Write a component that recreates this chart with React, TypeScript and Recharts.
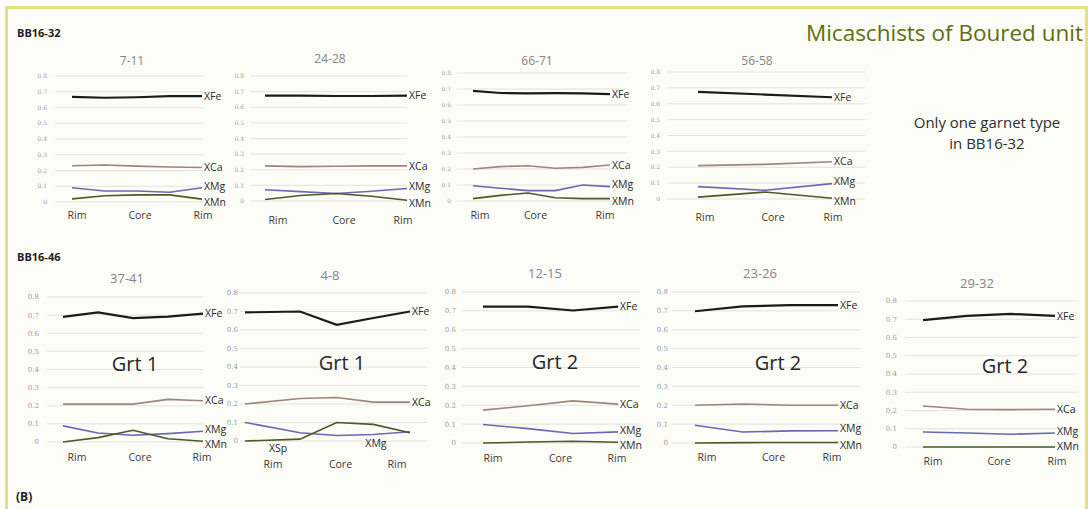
import { LineChart, Line, XAxis, YAxis, CartesianGrid } from "recharts";

// y axis ticks shared by every panel
const yTicks = [0, 0.1, 0.2, 0.3, 0.4, 0.5, 0.6, 0.7, 0.8];
const profileLabels = ["Rim", "Core", "Rim"];

// BB16-32
const pos_7_11 = [0, 1, 2, 3, 4];
const fe_7_11 = [0.668, 0.662, 0.665, 0.672, 0.672];
const ca_7_11 = [0.23, 0.235, 0.228, 0.222, 0.219];
const mg_7_11 = [0.09, 0.07, 0.07, 0.062, 0.09];
const mn_7_11 = [0.02, 0.04, 0.045, 0.045, 0.018];

const pos_24_28 = [0, 1, 2, 3, 4];
const fe_24_28 = [0.675, 0.675, 0.672, 0.672, 0.675];
const ca_24_28 = [0.225, 0.22, 0.222, 0.225, 0.225];
const mg_24_28 = [0.072, 0.06, 0.048, 0.062, 0.08];
const mn_24_28 = [0.01, 0.035, 0.048, 0.03, 0.005];

const pos_66_71 = [0, 1, 2, 3, 4, 5];
const fe_66_71 = [0.688, 0.675, 0.673, 0.674, 0.673, 0.668];
const ca_66_71 = [0.2, 0.215, 0.22, 0.205, 0.21, 0.225];
const mg_66_71 = [0.095, 0.08, 0.065, 0.065, 0.1, 0.09];
const mn_66_71 = [0.015, 0.035, 0.05, 0.02, 0.015, 0.015];

const pos_56_58 = [0, 1, 2];
const fe_56_58 = [0.675, 0.658, 0.641];
const ca_56_58 = [0.21, 0.218, 0.235];
const mg_56_58 = [0.078, 0.055, 0.097];
const mn_56_58 = [0.012, 0.044, 0.005];

// BB16-46
const pos_37_41 = [0, 1, 2, 3, 4];
const fe_37_41 = [0.69, 0.715, 0.684, 0.692, 0.708];
const ca_37_41 = [0.209, 0.209, 0.209, 0.235, 0.228];
const mg_37_41 = [0.089, 0.05, 0.037, 0.046, 0.059];
const mn_37_41 = [0, 0.024, 0.065, 0.018, 0.004];

const pos_4_8 = [0, 1.5, 2.5, 3.5, 4.5];
const fe_4_8 = [0.695, 0.7, 0.628, 0.665, 0.7];
const ca_4_8 = [0.2, 0.23, 0.235, 0.21, 0.21];
const mg_4_8 = [0.1, 0.045, 0.03, 0.035, 0.05];
const mn_4_8 = [0, 0.01, 0.1, 0.09, 0.045];

const pos_12_15 = [0, 1, 2, 3];
const fe_12_15 = [0.723, 0.723, 0.702, 0.723];
const ca_12_15 = [0.174, 0.197, 0.223, 0.206];
const mg_12_15 = [0.098, 0.076, 0.05, 0.059];
const mn_12_15 = [0, 0.005, 0.009, 0.004];

const pos_23_26 = [0, 1, 2, 3];
const fe_23_26 = [0.698, 0.724, 0.73, 0.73];
const ca_23_26 = [0.2, 0.207, 0.2, 0.2];
const mg_23_26 = [0.094, 0.058, 0.064, 0.065];
const mn_23_26 = [0, 0.002, 0.003, 0.003];

const pos_29_32 = [0, 1, 2, 3];
const fe_29_32 = [0.695, 0.718, 0.729, 0.718];
const ca_29_32 = [0.225, 0.207, 0.205, 0.207];
const mg_29_32 = [0.082, 0.077, 0.07, 0.077];
const mn_29_32 = [0, 0, 0, 0];

const series = [
  { key: "XFe", color: "#1b1b1b", width: 2.2, dy: 0 },
  { key: "XCa", color: "#9c8679", width: 1.6, dy: 0 },
  { key: "XMg", color: "#6a68b4", width: 1.6, dy: -2 },
  { key: "XMn", color: "#4b5a26", width: 1.6, dy: 3 },
];

type Tag = { key: string; text: string; index: number; dx: number; dy: number };

type Panel = {
  title: string;
  pos: number[];
  values: Record<string, number[]>;
  grt?: string;
  tags?: Tag[];
  // layout
  plotLeft: number;
  plotRight: number;
  y08: number;
  y0: number;
  lineStart: number;
  lineEnd: number;
  titleX: number;
  titleY: number;
  labelY: number;
  tickDx: number[];
  yGap?: number;
  mnDy?: number;
  grtX?: number;
  grtY?: number;
  big?: boolean;
};

const panels: Panel[] = [
  {
    title: "7-11", pos: pos_7_11,
    values: { XFe: fe_7_11, XCa: ca_7_11, XMg: mg_7_11, XMn: mn_7_11 },
    plotLeft: 55, plotRight: 203, y08: 76, y0: 202, lineStart: 72, lineEnd: 202,
    titleX: 132, titleY: 60, labelY: 218, tickDx: [5, 3, 1],
  },
  {
    title: "24-28", pos: pos_24_28,
    values: { XFe: fe_24_28, XCa: ca_24_28, XMg: mg_24_28, XMn: mn_24_28 },
    plotLeft: 250, plotRight: 407, y08: 76, y0: 201, lineStart: 265, lineEnd: 407,
    titleX: 330, titleY: 58, labelY: 223, tickDx: [13, 8, -4], yGap: 6,
  },
  {
    title: "66-71", pos: pos_66_71,
    values: { XFe: fe_66_71, XCa: ca_66_71, XMg: mg_66_71, XMn: mn_66_71 },
    plotLeft: 457, plotRight: 627, y08: 73, y0: 201, lineStart: 473, lineEnd: 610,
    titleX: 537, titleY: 60, labelY: 218, tickDx: [7, -6, -5], yGap: 6,
  },
  {
    title: "56-58", pos: pos_56_58,
    values: { XFe: fe_56_58, XCa: ca_56_58, XMg: mg_56_58, XMn: mn_56_58 },
    plotLeft: 667, plotRight: 865, y08: 72, y0: 199, lineStart: 698, lineEnd: 832,
    titleX: 757, titleY: 60, labelY: 220, tickDx: [7, 8, 1], yGap: 7,
  },
  {
    title: "37-41", pos: pos_37_41, grt: "Grt 1",
    values: { XFe: fe_37_41, XCa: ca_37_41, XMg: mg_37_41, XMn: mn_37_41 },
    plotLeft: 47, plotRight: 203, y08: 297, y0: 442, lineStart: 63, lineEnd: 203,
    titleX: 127, titleY: 278, labelY: 460, tickDx: [14, 7, -1], grtX: 135, grtY: 363, big: true,
  },
  {
    title: "4-8", pos: pos_4_8, grt: "Grt 1",
    values: { XFe: fe_4_8, XCa: ca_4_8, XMg: mg_4_8, XMn: mn_4_8 },
    tags: [
      { key: "XFe", text: "XFe", index: 4, dx: 2, dy: 0 },
      { key: "XCa", text: "XCa", index: 4, dx: 2, dy: 0 },
      { key: "XMn", text: "XSp", index: 0, dx: 24, dy: 7 },
      { key: "XMg", text: "XMg", index: 3, dx: -8, dy: 9 },
    ],
    plotLeft: 240, plotRight: 427, y08: 293, y0: 441, lineStart: 245, lineEnd: 410,
    titleX: 330, titleY: 275, labelY: 467, tickDx: [28, 13, -13], yGap: 2, grtX: 342, grtY: 362, big: true,
  },
  {
    title: "12-15", pos: pos_12_15, grt: "Grt 2",
    values: { XFe: fe_12_15, XCa: ca_12_15, XMg: mg_12_15, XMn: mn_12_15 },
    plotLeft: 462, plotRight: 640, y08: 292, y0: 443, lineStart: 483, lineEnd: 618,
    titleX: 545, titleY: 273, labelY: 461, tickDx: [10, 10, -1], yGap: 6, grtX: 555, grtY: 361, big: true,
  },
  {
    title: "23-26", pos: pos_23_26, grt: "Grt 2",
    values: { XFe: fe_23_26, XCa: ca_23_26, XMg: mg_23_26, XMn: mn_23_26 },
    plotLeft: 672, plotRight: 860, y08: 292, y0: 443, lineStart: 695, lineEnd: 838,
    titleX: 760, titleY: 273, labelY: 460, tickDx: [12, 7, -6], yGap: 4, grtX: 778, grtY: 362, big: true,
  },
  {
    title: "29-32", pos: pos_29_32, grt: "Grt 2",
    values: { XFe: fe_29_32, XCa: ca_29_32, XMg: mg_29_32, XMn: mn_29_32 },
    plotLeft: 905, plotRight: 1078, y08: 301, y0: 447, lineStart: 923, lineEnd: 1055,
    titleX: 977, titleY: 283, labelY: 464, tickDx: [10, 10, 2], mnDy: -1, grtX: 1005, grtY: 365, big: true,
  },
];

const FONT = "'Open Sans', 'Noto Sans', sans-serif";
const YW = 26;
const RIGHT = 34;
const TOP = 8;
const XH = 34;

function PanelChart({ p }: { p: Panel }) {
  const last = p.pos[p.pos.length - 1];
  const rows = p.pos.map((x, i) => {
    const r: Record<string, number> = { pos: x };
    series.forEach((s) => (r[s.key] = p.values[s.key][i]));
    return r;
  });
  const width = YW + (p.plotRight - p.plotLeft) + RIGHT;
  const height = TOP + (p.y0 - p.y08) + XH;
  const tags: Tag[] =
    p.tags ??
    series.map((s) => ({
      key: s.key,
      text: s.key,
      index: p.pos.length - 1,
      dx: 2,
      dy: s.key === "XMn" && p.mnDy !== undefined ? p.mnDy : s.dy,
    }));

  const tickMargin = p.labelY - p.y0 - 6;

  const renderTick = (props: any) => {
    const { x, y, payload, index } = props;
    return (
      <text x={x + p.tickDx[index]} y={y} dy="0.71em" textAnchor="middle" fontSize={10.5} fill="#3a3a3a" fontFamily={FONT}>
        {profileLabels[index] ?? payload.value}
      </text>
    );
  };

  return (
    <div style={{ position: "absolute", left: p.plotLeft - YW, top: p.y08 - TOP }}>
      <LineChart width={width} height={height} data={rows} margin={{ top: TOP, right: RIGHT, left: 0, bottom: 0 }}>
        <CartesianGrid vertical={false} stroke="#dcdcd8" strokeWidth={0.8} />
        <XAxis
          dataKey="pos"
          type="number"
          domain={[0, last]}
          ticks={[0, last / 2, last]}
          interval={0}
          padding={{ left: p.lineStart - p.plotLeft, right: Math.max(0, p.plotRight - p.lineEnd) }}
          axisLine={false}
          tickLine={false}
          tickSize={0}
          tickMargin={tickMargin}
          height={XH}
          tick={renderTick}
        />
        <YAxis
          type="number"
          domain={[0, 0.8]}
          ticks={yTicks}
          interval={0}
          width={YW}
          axisLine={false}
          tickLine={false}
          tickSize={0}
          tickMargin={p.yGap ?? 8}
          tick={{ fontSize: p.big ? 7 : 6, fill: "#9a9a9a", fontFamily: "'DejaVu Serif', serif" }}
          tickFormatter={(v: number) => (v === 0 ? "0" : v.toFixed(1))}
        />
        {series.map((s) => {
          const own = tags.filter((t) => t.key === s.key);
          return (
            <Line
              key={s.key}
              dataKey={s.key}
              type="linear"
              stroke={s.color}
              strokeWidth={s.width}
              dot={false}
              isAnimationActive={false}
              label={(lp: any) => {
                const t = own.find((o) => o.index === lp.index);
                if (!t) return <g key={lp.index} />;
                return (
                  <text
                    key={lp.index}
                    x={lp.x + t.dx}
                    y={lp.y + t.dy}
                    dy="0.35em"
                    textAnchor="start"
                    fontSize={10.5}
                    fill="#2a2a2a"
                    fontFamily={FONT}
                  >
                    {t.text}
                  </text>
                );
              }}
            />
          );
        })}
      </LineChart>
    </div>
  );
}

const abs = (x: number, y: number, extra: React.CSSProperties = {}): React.CSSProperties => ({
  position: "absolute",
  left: x,
  top: y,
  transform: "translate(-50%, -50%)",
  whiteSpace: "nowrap",
  fontFamily: FONT,
  ...extra,
});

export default function App() {
  return (
    <div
      style={{
        position: "absolute",
        left: 0,
        top: 0,
        width: 1088,
        height: 509,
        background: "#ffffff",
        overflow: "hidden",
        fontFamily: FONT,
      }}
    >
      <div
        style={{
          position: "absolute",
          left: 5,
          top: 6,
          width: 1077,
          height: 510,
          border: "3px solid #e2e27e",
          background: "#fdfdf8",
        }}
      />
      <div style={{ position: "absolute", left: 17, top: 25, fontSize: 11, fontWeight: 700, color: "#1e1e1e", fontFamily: FONT }}>
        BB16-32
      </div>
      <div style={{ position: "absolute", left: 17, top: 249, fontSize: 11, fontWeight: 700, color: "#1e1e1e", fontFamily: FONT }}>
        BB16-46
      </div>
      <div style={{ position: "absolute", left: 16, top: 488, fontSize: 12, fontWeight: 700, color: "#1e1e1e", fontFamily: FONT }}>
        (B)
      </div>
      <div style={{ position: "absolute", right: 5, top: 17, fontSize: 22.5, color: "#5f6e12", fontFamily: FONT, whiteSpace: "nowrap" }}>
        Micaschists of Boured unit
      </div>
      <div style={abs(987, 121.5, { fontSize: 15, color: "#2e2e2e", lineHeight: "15px" })}>Only one garnet type</div>
      <div style={abs(987, 143, { fontSize: 15, color: "#2e2e2e", lineHeight: "15px" })}>in BB16-32</div>

      {panels.map((p) => (
        <PanelChart key={p.title} p={p} />
      ))}

      {panels.map((p) => (
        <div key={"t" + p.title} style={abs(p.titleX, p.titleY, { fontSize: p.big ? 13 : 12, color: "#858585" })}>
          {p.title}
        </div>
      ))}
      {panels
        .filter((p) => p.grt)
        .map((p) => (
          <div key={"g" + p.title} style={abs(p.grtX as number, p.grtY as number, { fontSize: 20, color: "#262626" })}>
            {p.grt}
          </div>
        ))}
    </div>
  );
}
